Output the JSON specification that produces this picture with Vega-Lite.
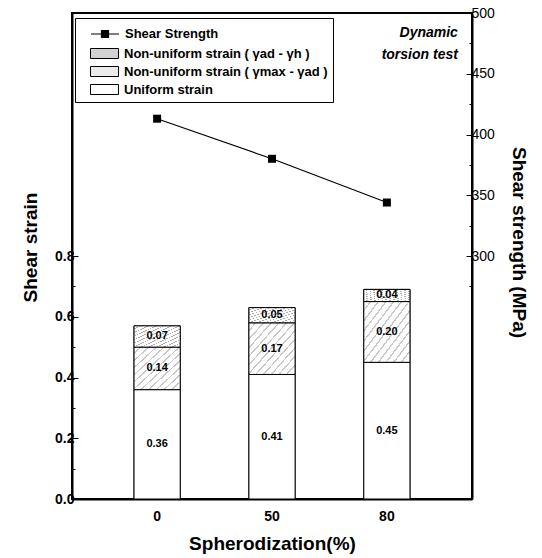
{
  "$schema": "https://vega.github.io/schema/vega-lite/v6.json",
  "width": 400,
  "height": 486,
  "autosize": {"type": "none"},
  "padding": {"left": 72, "top": 13, "right": 70, "bottom": 59},
  "background": "white",
  "config": {
    "view": {"stroke": "black", "strokeWidth": 2},
    "font": "Liberation Sans",
    "axis": {
      "grid": false, "domainColor": "black", "domainWidth": 2, "tickColor": "black", "tickWidth": 1,
      "labelColor": "black", "titleColor": "black", "labelFont": "Liberation Sans", "titleFont": "Liberation Sans",
      "labelFontWeight": "bold", "titleFontWeight": "bold", "titleFontSize": 19, "labelFontSize": 14
    },
    "legend": {"labelFont": "Liberation Sans", "labelFontWeight": "bold", "labelFontSize": 13, "labelColor": "black", "labelLimit": 300}
  },
  "resolve": {"scale": {"y": "independent", "color": "independent"}},
  "layer": [
    {
      "data": {"values": [
        {"s": "0", "type": "Uniform strain", "v": 0.36},
        {"s": "0", "type": "Non-uniform strain ( γmax - γad )", "v": 0.14},
        {"s": "0", "type": "Non-uniform strain ( γad - γh )", "v": 0.07},
        {"s": "50", "type": "Uniform strain", "v": 0.41},
        {"s": "50", "type": "Non-uniform strain ( γmax - γad )", "v": 0.17},
        {"s": "50", "type": "Non-uniform strain ( γad - γh )", "v": 0.05},
        {"s": "80", "type": "Uniform strain", "v": 0.45},
        {"s": "80", "type": "Non-uniform strain ( γmax - γad )", "v": 0.20},
        {"s": "80", "type": "Non-uniform strain ( γad - γh )", "v": 0.04}
      ]},
      "layer": [
        {
          "mark": {"type": "bar", "stroke": "black", "strokeWidth": 1},
          "encoding": {
            "x": {"field": "s", "type": "nominal", "sort": ["0", "50", "80"],
              "scale": {"paddingInner": 0.598, "paddingOuter": 0.54},
              "axis": {"title": "Spherodization(%)", "labelAngle": 0, "ticks": false, "labelPadding": 10, "titlePadding": 11, "labelFontSize": 14}},
            "y": {"field": "v", "type": "quantitative", "stack": "zero",
              "scale": {"domain": [0, 1.6], "nice": false},
              "axis": {"title": "Shear strain", "values": [0, 0.1, 0.2, 0.3, 0.4, 0.5, 0.6, 0.7, 0.8],
                "labelExpr": "round(datum.value*10) % 2 === 0 ? format(datum.value, '.1f') : ''",
                "tickSize": {"condition": {"test": "round(datum.value*10) % 2 === 1", "value": -3}, "value": -6},
                "labelPadding": 4, "titlePadding": 14, "titleY": 234}},
            "order": {"field": "type", "sort": "descending"},
            "color": {"field": "type", "type": "nominal",
              "scale": {"domain": ["Non-uniform strain ( γad - γh )", "Non-uniform strain ( γmax - γad )", "Uniform strain"], "range": ["#d2d2d2", "#ebebeb", "#ffffff"]},
              "legend": {
                "title": " ", "titleFontSize": 13, "titlePadding": 7, "orient": "none", "legendX": 3, "legendY": 5, "padding": 5,
                "labelOffset": 23, "rowPadding": 0, "symbolSize": 400, "strokeColor": "black", "fillColor": "white",
                "symbolType": "M0,-0.5H2.8V0.5H0Z", "symbolStrokeColor": "black", "symbolStrokeWidth": 1, "symbolOpacity": 1, "zindex": 1
              }}
          }
        },
        {
          "mark": {"type": "bar", "stroke": "black", "strokeWidth": 1},
          "encoding": {
            "x": {"field": "s", "type": "nominal"},
            "y": {"field": "v", "type": "quantitative", "stack": "zero"},
            "order": {"field": "type", "sort": "descending"},
            "fill": {
              "condition": [
                {"test": "datum.type === 'Non-uniform strain ( γad - γh )'", "value": {"gradient": "linear", "x1": 0, "y1": 0, "x2": 1, "y2": 1, "stops": [
                  {"offset": 0, "color": "#ffffff"}, {"offset": 0.065, "color": "#ffffff"}, {"offset": 0.065, "color": "#b0b0b0"}, {"offset": 0.0833, "color": "#b0b0b0"},
                  {"offset": 0.0833, "color": "#ffffff"}, {"offset": 0.1483, "color": "#ffffff"}, {"offset": 0.1483, "color": "#b0b0b0"}, {"offset": 0.1667, "color": "#b0b0b0"},
                  {"offset": 0.1667, "color": "#ffffff"}, {"offset": 0.2317, "color": "#ffffff"}, {"offset": 0.2317, "color": "#b0b0b0"}, {"offset": 0.25, "color": "#b0b0b0"},
                  {"offset": 0.25, "color": "#ffffff"}, {"offset": 0.315, "color": "#ffffff"}, {"offset": 0.315, "color": "#b0b0b0"}, {"offset": 0.3333, "color": "#b0b0b0"},
                  {"offset": 0.3333, "color": "#ffffff"}, {"offset": 0.3983, "color": "#ffffff"}, {"offset": 0.3983, "color": "#b0b0b0"}, {"offset": 0.4167, "color": "#b0b0b0"},
                  {"offset": 0.4167, "color": "#ffffff"}, {"offset": 0.4817, "color": "#ffffff"}, {"offset": 0.4817, "color": "#b0b0b0"}, {"offset": 0.5, "color": "#b0b0b0"},
                  {"offset": 0.5, "color": "#ffffff"}, {"offset": 0.565, "color": "#ffffff"}, {"offset": 0.565, "color": "#b0b0b0"}, {"offset": 0.5833, "color": "#b0b0b0"},
                  {"offset": 0.5833, "color": "#ffffff"}, {"offset": 0.6483, "color": "#ffffff"}, {"offset": 0.6483, "color": "#b0b0b0"}, {"offset": 0.6667, "color": "#b0b0b0"},
                  {"offset": 0.6667, "color": "#ffffff"}, {"offset": 0.7317, "color": "#ffffff"}, {"offset": 0.7317, "color": "#b0b0b0"}, {"offset": 0.75, "color": "#b0b0b0"},
                  {"offset": 0.75, "color": "#ffffff"}, {"offset": 0.815, "color": "#ffffff"}, {"offset": 0.815, "color": "#b0b0b0"}, {"offset": 0.8333, "color": "#b0b0b0"},
                  {"offset": 0.8333, "color": "#ffffff"}, {"offset": 0.8983, "color": "#ffffff"}, {"offset": 0.8983, "color": "#b0b0b0"}, {"offset": 0.9167, "color": "#b0b0b0"},
                  {"offset": 0.9167, "color": "#ffffff"}, {"offset": 0.9817, "color": "#ffffff"}, {"offset": 0.9817, "color": "#b0b0b0"}, {"offset": 1, "color": "#b0b0b0"}
                ]}},
                {"test": "datum.type === 'Non-uniform strain ( γmax - γad )'", "value": {"gradient": "linear", "x1": 0, "y1": 0, "x2": 1, "y2": 1, "stops": [
                  {"offset": 0, "color": "#ffffff"}, {"offset": 0.065, "color": "#ffffff"}, {"offset": 0.065, "color": "#c8c8c8"}, {"offset": 0.0833, "color": "#c8c8c8"},
                  {"offset": 0.0833, "color": "#ffffff"}, {"offset": 0.1483, "color": "#ffffff"}, {"offset": 0.1483, "color": "#c8c8c8"}, {"offset": 0.1667, "color": "#c8c8c8"},
                  {"offset": 0.1667, "color": "#ffffff"}, {"offset": 0.2317, "color": "#ffffff"}, {"offset": 0.2317, "color": "#c8c8c8"}, {"offset": 0.25, "color": "#c8c8c8"},
                  {"offset": 0.25, "color": "#ffffff"}, {"offset": 0.315, "color": "#ffffff"}, {"offset": 0.315, "color": "#c8c8c8"}, {"offset": 0.3333, "color": "#c8c8c8"},
                  {"offset": 0.3333, "color": "#ffffff"}, {"offset": 0.3983, "color": "#ffffff"}, {"offset": 0.3983, "color": "#c8c8c8"}, {"offset": 0.4167, "color": "#c8c8c8"},
                  {"offset": 0.4167, "color": "#ffffff"}, {"offset": 0.4817, "color": "#ffffff"}, {"offset": 0.4817, "color": "#c8c8c8"}, {"offset": 0.5, "color": "#c8c8c8"},
                  {"offset": 0.5, "color": "#ffffff"}, {"offset": 0.565, "color": "#ffffff"}, {"offset": 0.565, "color": "#c8c8c8"}, {"offset": 0.5833, "color": "#c8c8c8"},
                  {"offset": 0.5833, "color": "#ffffff"}, {"offset": 0.6483, "color": "#ffffff"}, {"offset": 0.6483, "color": "#c8c8c8"}, {"offset": 0.6667, "color": "#c8c8c8"},
                  {"offset": 0.6667, "color": "#ffffff"}, {"offset": 0.7317, "color": "#ffffff"}, {"offset": 0.7317, "color": "#c8c8c8"}, {"offset": 0.75, "color": "#c8c8c8"},
                  {"offset": 0.75, "color": "#ffffff"}, {"offset": 0.815, "color": "#ffffff"}, {"offset": 0.815, "color": "#c8c8c8"}, {"offset": 0.8333, "color": "#c8c8c8"},
                  {"offset": 0.8333, "color": "#ffffff"}, {"offset": 0.8983, "color": "#ffffff"}, {"offset": 0.8983, "color": "#c8c8c8"}, {"offset": 0.9167, "color": "#c8c8c8"},
                  {"offset": 0.9167, "color": "#ffffff"}, {"offset": 0.9817, "color": "#ffffff"}, {"offset": 0.9817, "color": "#c8c8c8"}, {"offset": 1, "color": "#c8c8c8"}
                ]}}
              ],
              "value": "white"
            }
          }
        },
        {
          "mark": {"type": "text", "font": "Liberation Sans", "fontWeight": "bold", "fontSize": 11, "color": "black"},
          "encoding": {
            "x": {"field": "s", "type": "nominal"},
            "y": {"field": "v", "type": "quantitative", "stack": "zero", "bandPosition": 0.5},
            "order": {"field": "type", "sort": "descending"},
            "text": {"field": "v", "type": "quantitative", "format": ".2f"}
          }
        },
        {
          "data": {"values": [{"t": ["Dynamic", "torsion test"]}]},
          "mark": {"type": "text", "font": "Liberation Sans", "fontWeight": "bold", "fontStyle": "italic", "fontSize": 14, "align": "right", "baseline": "middle", "lineHeight": 22, "dx": 71, "color": "black"},
          "encoding": {
            "x": {"datum": "80", "type": "nominal"},
            "y": {"datum": 1.534, "type": "quantitative"},
            "text": {"field": "t"}
          }
        }
      ]
    },
    {
      "data": {"values": [
        {"s": "0", "strength": 413},
        {"s": "50", "strength": 380},
        {"s": "80", "strength": 344}
      ]},
      "layer": [
        {
          "mark": {"type": "line", "strokeWidth": 1.2,
            "point": {"shape": "square", "size": 64, "filled": true, "color": "black"}},
          "encoding": {
            "x": {"field": "s", "type": "nominal"},
            "y": {"field": "strength", "type": "quantitative",
              "scale": {"domain": [100, 500], "nice": false},
              "axis": {"orient": "right", "title": "Shear strength (MPa)",
                "values": [275, 300, 325, 350, 375, 400, 425, 450, 475, 500],
                "labelExpr": "datum.value % 50 === 0 ? datum.label : ''",
                "tickSize": {"condition": {"test": "datum.value % 50 !== 0", "value": -3}, "value": -6},
                "labelFontWeight": "normal", "labelFontSize": 14, "labelPadding": 5, "titlePadding": 14, "titleY": 229}},
            "color": {"datum": "Shear Strength", "type": "nominal",
              "scale": {"domain": ["Shear Strength"], "range": ["black"]},
              "legend": {
                "title": null, "orient": "none", "legendX": 3, "legendY": 5, "padding": 5,
                "labelOffset": 23, "symbolSize": 400, "symbolType": "M0,0H2.8M1.05,-0.35H1.75V0.35H1.05Z",
                "symbolFillColor": "black", "symbolStrokeColor": "black", "symbolStrokeWidth": 1.2, "symbolOpacity": 1, "zindex": 2
              }}
          }
        }
      ]
    }
  ]
}
